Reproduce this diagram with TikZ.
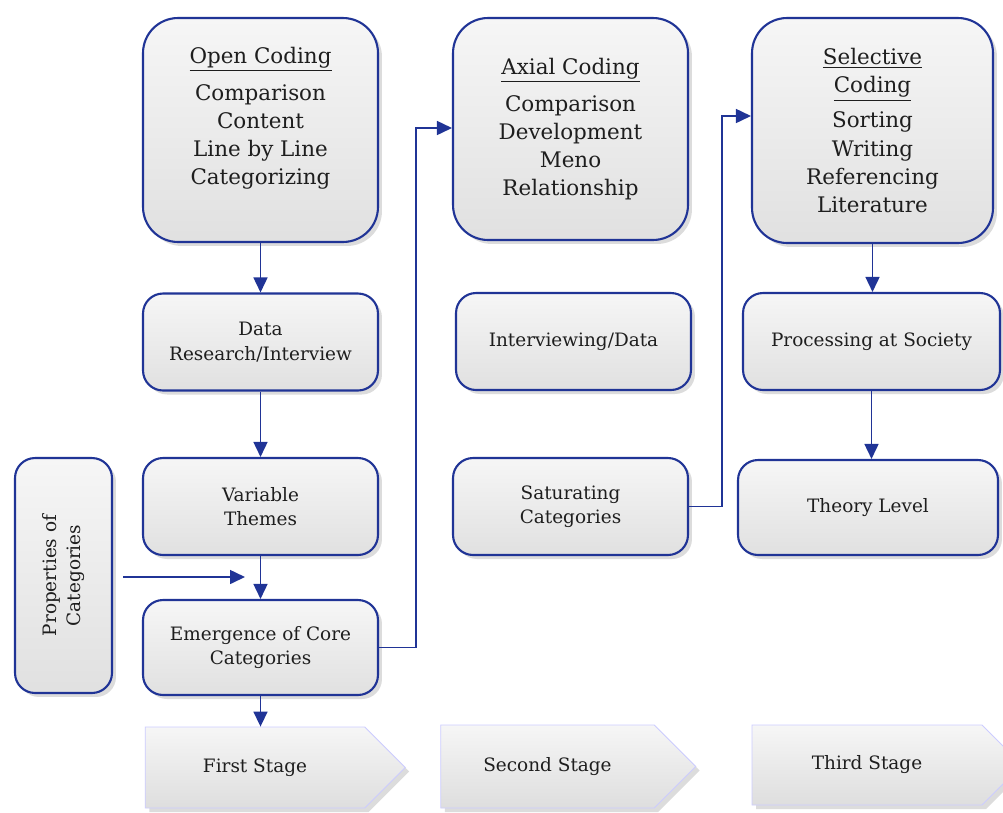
\documentclass[tikz,border=0pt]{standalone}
\usepackage{fontspec}
\setmainfont{DejaVu Serif}
\usetikzlibrary{arrows.meta,shapes.symbols,shadows}
\definecolor{boxblue}{RGB}{32,52,150}
\definecolor{textgray}{RGB}{30,30,30}
\tikzset{
  box/.style={rounded corners=0.4cm, draw=boxblue, line width=1.2pt,
    top color=gray!7, middle color=gray!10, bottom color=gray!24,
    preaction={draw=white, line width=6pt},
    drop shadow={shadow xshift=0.8mm, shadow yshift=-0.8mm, fill=gray!60, opacity=.45},
    align=center, text=textgray, inner sep=2pt,
    font=\fontsize{10.5}{14}\selectfont,
    minimum width=4.7cm, minimum height=1.94cm},
  bigbox/.style={box, rounded corners=0.7cm, font=\fontsize{12.2}{16}\selectfont},
  stagearrow/.style={signal, signal to=east, signal pointer angle=90,
    draw=blue!20, line width=0.5pt,
    top color=gray!7, middle color=gray!10, bottom color=gray!26,
    preaction={draw=white, line width=6pt},
    drop shadow={shadow xshift=0.8mm, shadow yshift=-0.8mm, fill=gray!60, opacity=.45},
    text=textgray, font=\fontsize{10.5}{14}\selectfont,
    minimum height=1.62cm},
  flow/.style={draw=boxblue, line width=0.9pt, -{Triangle[length=0.3cm, width=0.28cm]}}
}
\begin{document}
\begin{tikzpicture}[x=0.02cm, y=-0.02cm]
	\useasboundingbox (0,0) rectangle (1003,812);
	
	% first column
	\node[bigbox, minimum height=4.48cm] (open) at (260.5,130) {\underline{Open Coding}\\[5pt] Comparison\\ Content\\ Line by Line\\ Categorizing\\ \mbox{}};
	\node[box] (data) at (260.5,342) {Data\\ Research/Interview};
	\node[box] (variable) at (260.5,506.5) {Variable\\ Themes};
	\node[box, minimum height=1.9cm] (emerge) at (260.5,647.5) {Emergence of Core\\ Categories};
	\node[box, minimum width=1.94cm, minimum height=4.7cm] (props) at (63.5,575.5) {\rotatebox{90}{\begin{tabular}{@{}c@{}}Properties of\\ Categories\end{tabular}}};
	
	% second column
	\node[bigbox, minimum height=4.44cm] (axial) at (570.5,129) {\underline{Axial Coding}\\[5pt] Comparison\\ Development\\ Meno\\ Relationship};
	\node[box] (interview) at (573.5,341.5) {Interviewing/Data};
	\node[box] (satur) at (570.5,506.5) {Saturating\\ Categories};
	
	% third column
	\node[bigbox, minimum width=4.82cm, minimum height=4.5cm] (selective) at (872.5,130.5) {\underline{Selective}\\ \underline{Coding}\\[4pt] Sorting\\ Writing\\ Referencing\\ Literature};
	\node[box, minimum width=5.14cm] (process) at (871.5,341.5) {Processing at Society};
	\node[box, minimum width=5.2cm, minimum height=1.9cm] (theory) at (868,507.5) {Theory Level};
	
	% stages
	\node[stagearrow, minimum width=5.2cm] (first) at (255,767.5) {First Stage};
	\node[stagearrow, minimum width=5.1cm, minimum height=1.66cm] (second) at (547.5,766.5) {Second Stage};
	\node[stagearrow, minimum width=5.4cm, minimum height=1.6cm] (third) at (867,765) {Third Stage};
	
	\coordinate (meet) at (245,577);
	\coordinate (jointA) at (416,128);
	\coordinate (jointB) at (722,116);
	
	\draw[flow] (open) -- (data);
	\draw[flow] (data) -- (variable);
	\draw[flow] (variable) -- (emerge);
	\draw[flow, shorten <=0.2cm] (props.east |- meet) -- (meet);
	\draw[flow] (emerge) -- (emerge |- first.north);
	\draw[flow] (emerge.east) -| (jointA) -- (jointA -| axial.west);
	\draw[flow] (satur.east) -| (jointB) -- (jointB -| selective.west);
	\draw[flow] (selective.south) -- (selective.south |- process.north);
	\draw[flow] (process.south) -- (process.south |- theory.north);
	
\end{tikzpicture}
\end{document}
